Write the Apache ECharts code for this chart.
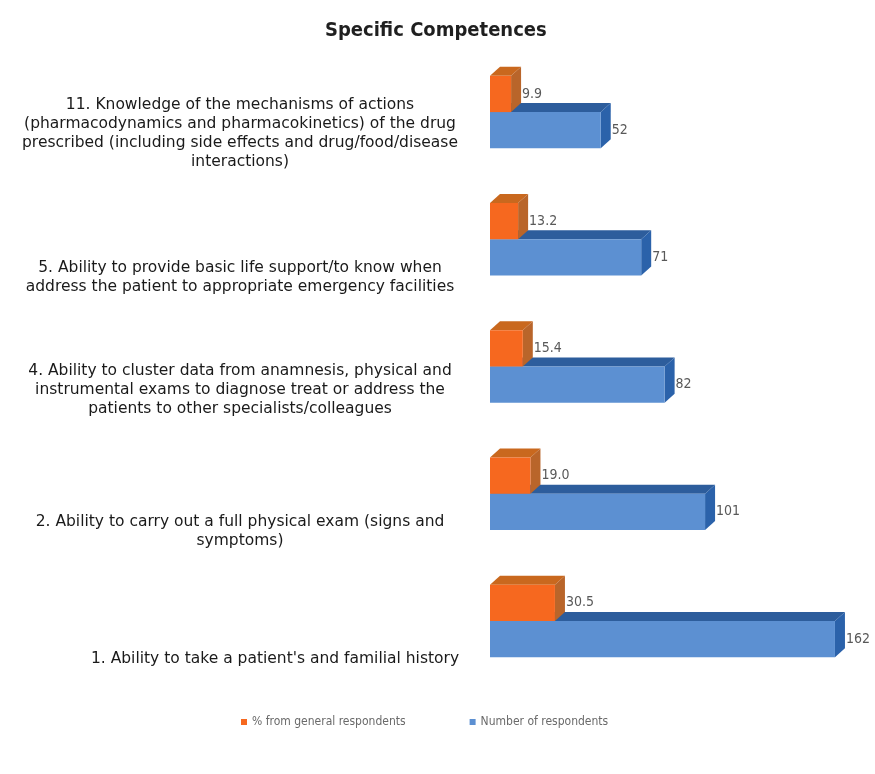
<!DOCTYPE html>
<html>
<head>
<meta charset="utf-8">
<script src="https://cdn.jsdelivr.net/npm/echarts@6/dist/echarts.min.js"></script>
<style>html,body{margin:0;padding:0;background:#fff}#c{width:875px;height:774px}</style>
</head>
<body>
<div id="c"></div>
<script>
// categories listed bottom-to-top (category axis runs upward)
const categories = [
  "1. Ability to take a patient's and familial history",
  "2. Ability to carry out a full physical exam (signs and\nsymptoms)",
  "4. Ability to cluster data from anamnesis, physical and\ninstrumental exams to diagnose treat or address the\npatients to other specialists/colleagues",
  "5. Ability to provide basic life support/to know when\naddress the patient to appropriate emergency facilities",
  "11. Knowledge of the mechanisms of actions\n(pharmacodynamics and pharmacokinetics) of the drug\nprescribed (including side effects and drug/food/disease\ninteractions)"
];
const pctValues = [30.5, 19.0, 15.4, 13.2, 9.9];
const countValues = [162, 101, 82, 71, 52];
const seriesNames = ['% from general respondents', 'Number of respondents'];
const titleText = 'Specific Competences';

// layout / style (not data)
const labelShift = [[35, 38], [0, 38], [0, 23], [0, 38], [0, 21]];
const FONT_C = '"DejaVu Sans Condensed", "DejaVu Sans", sans-serif';
const FONT = '"DejaVu Sans", sans-serif';
const styles = {
  pct: { front: '#F6681F', top: '#C9681E', side: '#B9652A', upper: true },
  cnt: { front: '#5C90D2', top: '#2D5D9C', side: '#2B62AA', upper: false }
};
const DX = 10, DY = 9;

function barRenderer(st, fmt) {
  return function (params, api) {
    const val = api.value(0), cat = api.value(1);
    const p0 = api.coord([0, cat]);
    const p1 = api.coord([val, cat]);
    const band = api.size([0, 1])[1];
    const th = band * 0.285;
    const y0 = st.upper ? p0[1] - th : p0[1];
    const y1 = st.upper ? p0[1] : p0[1] + th;
    const x0 = p0[0], x1 = p1[0];
    return {
      type: 'group',
      children: [
        { type: 'polygon', shape: { points: [[x0, y0], [x1, y0], [x1 + DX, y0 - DY], [x0 + DX, y0 - DY]] }, style: { fill: st.top } },
        { type: 'polygon', shape: { points: [[x1, y0], [x1 + DX, y0 - DY], [x1 + DX, y1 - DY], [x1, y1]] }, style: { fill: st.side } },
        { type: 'rect', shape: { x: x0, y: y0, width: x1 - x0, height: y1 - y0 }, style: { fill: st.front } },
        { type: 'text', style: { x: x1 + DX + 1, y: (y0 + y1) / 2, text: fmt(val), fill: '#595959', font: '14px ' + FONT_C, align: 'left', verticalAlign: 'middle' } }
      ]
    };
  };
}

const chart = echarts.init(document.getElementById('c'), null, { renderer: 'canvas' });
chart.setOption({
  backgroundColor: '#ffffff',
  animation: false,
  title: {
    text: titleText, left: 320, top: 16,
    textStyle: { fontFamily: FONT_C, fontWeight: 'bold', fontSize: 20, color: '#1f1f1f' }
  },
  legend: {
    data: seriesNames,
    top: 711, left: 236,
    itemWidth: 6, itemHeight: 6, itemGap: 64,
    icon: 'rect',
    textStyle: { fontFamily: FONT_C, fontSize: 12, color: '#6a6a6a' }
  },
  grid: { left: 490, right: 23, top: 48.5, bottom: 89.5 },
  xAxis: { type: 'value', min: 0, max: 170, show: false },
  yAxis: { type: 'category', data: categories, show: false },
  series: [
    {
      name: seriesNames[1], type: 'custom', z: 2,
      itemStyle: { color: styles.cnt.front },
      encode: { x: 0, y: 1 },
      data: countValues.map((v, i) => [v, i]),
      renderItem: barRenderer(styles.cnt, v => String(v))
    },
    {
      name: seriesNames[0], type: 'custom', z: 3,
      itemStyle: { color: styles.pct.front },
      encode: { x: 0, y: 1 },
      data: pctValues.map((v, i) => [v, i]),
      renderItem: barRenderer(styles.pct, v => v.toFixed(1))
    },
    {
      name: 'labels', type: 'custom', z: 1, silent: true,
      encode: { x: 0, y: 1 },
      data: categories.map((c, i) => [0, i]),
      renderItem: function (params, api) {
        const cat = api.value(1);
        const p = api.coord([0, cat]);
        const sh = labelShift[cat];
        return {
          type: 'text',
          style: {
            x: p[0] - 250 + sh[0], y: p[1] + sh[1],
            text: categories[cat],
            fill: '#1a1a1a',
            font: '15.5px ' + FONT,
            lineHeight: 19,
            align: 'center', verticalAlign: 'middle'
          }
        };
      }
    }
  ]
});
</script>
</body>
</html>
